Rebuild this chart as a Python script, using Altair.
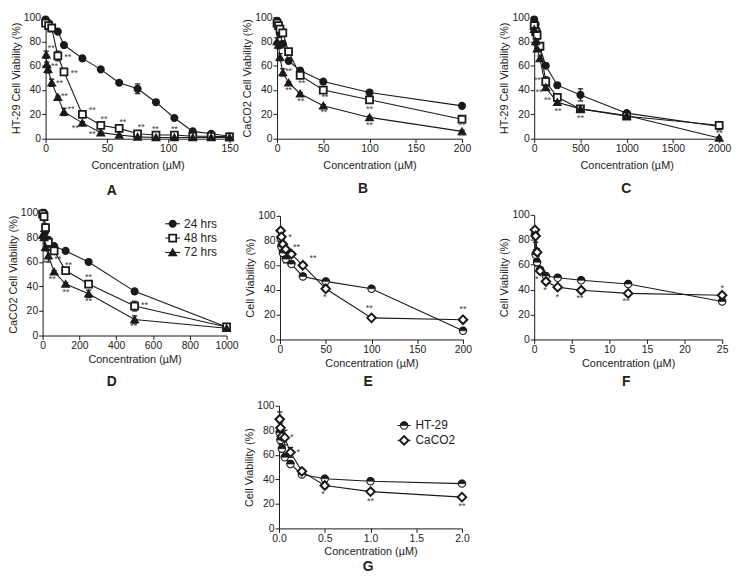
import altair as alt
import pandas as pd

FONT = "Liberation Sans"
W, H = 734, 570
INK = "#1a1a1a"
TXT = "#222222"

# ---------------- data ----------------
# Panel A: HT-29, 0-150 uM
A_x24 = [0, 2.5, 5, 10, 15, 30, 45, 60, 75, 90, 105, 120, 135, 150]
A_y24 = [98, 95, 91, 88, 77, 66, 57, 46, 41, 30, 17, 6, 4, 2]
A_e24 = [1, 1, 1, 1, 1, 2, 1, 1, 4, 2, 1, 0, 0, 0]
A_x48 = [0, 2.5, 5, 10, 15, 30, 45, 60, 75, 90, 105, 120, 135, 150]
A_y48 = [95, 93, 91, 68, 55, 20, 11, 8.5, 4, 3, 3, 2, 2, 1.5]
A_e48 = [2, 1, 1, 4, 1, 1, 1, 1, 1, 1, 1, 0, 0, 0]
A_x72 = [0.5, 1, 2, 5, 10, 15, 30, 45, 60, 75, 90, 105, 120, 135, 150]
A_y72 = [69, 61, 57, 46, 34, 22, 13, 5, 3, 1.5, 1, 1, 1, 1, 1]
A_e72 = [3, 2, 3, 3, 1, 3, 1, 1, 0, 0, 0, 0, 0, 0, 0]
A_sx = [4.6, 7.3, 11.3, 15.3, 20.7, 24.2, 18, 23.4, 38, 47.6, 63, 78, 89.5, 105, 38]
A_sy = [74.8, 60, 46, 35, 24.4, 9, 67.5, 54, 23.6, 16.3, 13.8, 9.8, 8, 7.9, 3.5]
A_st = ["**"] * 15

# Panel B: CaCO2, 0-200 uM
B_x = [0, 1.5625, 3.125, 6.25, 12.5, 25, 50, 100, 200]
B_y24 = [97, 93, 86, 78, 64, 56, 47, 38, 27]
B_e24 = [2, 2, 2, 2, 1, 2, 1, 1, 1]
B_y48 = [95, 93, 90, 87, 71.5, 52, 40, 32, 16]
B_e48 = [4, 3, 4, 3, 2, 2, 1, 1, 2]
B_y72 = [80, 77, 67, 54.5, 46, 37, 27, 17.5, 6]
B_e72 = [3, 3, 3, 3, 1, 1, 1, 1, 1]
B_sx = [12.5, 12.5, 26.7, 25.7, 51.7, 50.6, 100, 100, 200, 200]
B_sy = [56, 40, 45.5, 31, 34, 22, 24.6, 11.6, 11, 2]
B_st = ["**"] * 10

# Panel C: HT-29, 0-2000 uM
C_x = [0, 15.625, 31.25, 62.5, 125, 250, 500, 1000, 2000]
C_y24 = [98, 94, 88, 75, 60, 44, 36, 21, 10]
C_e24 = [2, 2, 2, 1, 1, 2, 5, 1, 1]
C_y48 = [93, 88, 85, 76, 47, 34, 24.5, 18.5, 11]
C_e48 = [3, 3, 3, 3, 4, 2, 1, 1, 1]
C_y72 = [90, 80, 74, 66, 42, 30, 24.5, 19, 0.5]
C_e72 = [3, 3, 2, 2, 1, 2, 1, 1, 1]
C_sx = [35, 54, 143, 257, 500, 2000]
C_sy = [48, 38, 31.4, 22.5, 17.3, 4.3]
C_st = ["**"] * 6

# Panel D: CaCO2, 0-1000 uM
D_x = [0, 7.8125, 15.625, 31.25, 62.5, 125, 250, 500, 1000]
D_y24 = [100, 100, 85, 78, 73, 69, 60, 36, 7]
D_e24 = [1, 1, 2, 2, 1, 1, 1, 2, 1]
D_y48 = [99, 97, 88, 76, 69, 53, 42, 24, 7]
D_e48 = [2, 2, 3, 4, 2, 2, 2, 4, 1]
D_y72 = [82, 80, 72, 65, 52, 42, 34, 13, 6]
D_e72 = [3, 2, 3, 5, 1, 1, 3, 3, 1]
D_sx = [20, 82, 140, 52, 127, 249, 249, 554, 495]
D_sy = [59, 62, 57.8, 45.7, 35.7, 47.8, 28.2, 25, 7.5]
D_st = ["**"] * 9

# Panel E: 0-200 uM
E_x = [0.78125, 1.5625, 3.125, 6.25, 12.5, 25, 50, 100, 200]
E_ht = [82, 75, 70, 65, 61, 51, 47, 41, 7]
E_hte = [3, 3, 3, 3, 1, 1, 1, 1, 1]
E_ca = [88, 83, 77, 73, 69, 60, 41, 17.5, 16]
E_cae = [2, 2, 2, 2, 2, 2, 2, 1, 1]
E_sx = [11, 18, 36, 49, 97.6, 200]
E_sy = [82.7, 74.6, 66, 34, 25.3, 24.5]
E_st = ["*", "**", "**", "*", "**", "**"]

# Panel F: 0-25 uM
F_x = [0.09765625, 0.1953125, 0.390625, 0.78125, 1.5625, 3.125, 6.25, 12.5, 25]
F_ht = [84, 68, 62, 56, 51, 49.5, 47.5, 44.5, 30.5]
F_hte = [3, 4, 3, 2, 1, 1, 1, 1, 1]
F_ca = [88, 83, 70, 55, 46.5, 42, 39.5, 37, 35.5]
F_cae = [2, 5, 3, 2, 2, 1, 1, 2, 1]
F_sx = [0.35, 1.45, 3.07, 6.1, 12.2, 25]
F_sy = [48.5, 39.7, 33.9, 33, 31, 41]
F_st = ["*", "*", "*", "**", "**", "*"]

# Panel G: 0-2 uM
G_x = [0.0078125, 0.015625, 0.03125, 0.0625, 0.125, 0.25, 0.5, 1, 2]
G_ht = [78, 72, 65, 58, 52.5, 44, 40.5, 38.5, 36.5]
G_hte = [4, 3, 3, 2, 1, 1, 1, 1, 1]
G_ca = [89, 82, 75, 74, 62, 46.5, 35, 30, 25.5]
G_cae = [6, 4, 4, 6, 4, 2, 2, 2, 1]
G_sx = [0.14, 0.21, 0.48, 1, 2]
G_sy = [74.7, 62.6, 27.7, 22.3, 18.3]
G_st = ["*", "*", "*", "**", "**"]

HRS = ["24 hrs", "48 hrs", "72 hrs"]
LINES = ["HT-29", "CaCO2"]

# ---------------- helpers ----------------
layers = []


def frame(xs, ys, es):
    df = pd.DataFrame({"x": xs, "y": ys, "err": es})
    df["lo"] = df["y"] - df["err"]
    df["hi"] = df["y"] + df["err"]
    return df


HALF_TOP = "M-1,0A1,1 0 0 1 1,0Z"


def pt(base, **kw):
    return base.mark_point(filled=True, opacity=1, stroke=INK, **kw)


def marker_layers(base, kind, enc):
    if kind == "circle":
        return [pt(base, shape="circle", fill=INK, size=38).encode(**enc)]
    if kind == "square":
        return [pt(base, shape="square", fill="white", strokeWidth=1.8, size=50).encode(**enc)]
    if kind == "triangle":
        return [pt(base, shape="triangle-up", fill=INK, size=42).encode(**enc)]
    if kind == "diamond":
        return [pt(base, shape="diamond", fill="white", strokeWidth=2, size=75).encode(**enc)]
    if kind == "half":
        return [
            pt(base, shape="circle", fill="white", strokeWidth=1.1, size=55).encode(**enc),
            pt(base, shape=HALF_TOP, fill=INK, strokeWidth=0.6, size=55).encode(**enc),
        ]
    return []


AX = dict(grid=False, labelFlush=False, labelOverlap=False, domainColor=INK, tickColor=INK,
          domainWidth=1, tickWidth=1, tickSize=4, labelPadding=1, labelFont=FONT,
          labelFontSize=10.5, labelColor=TXT, titleFont=FONT, titleFontSize=11,
          titleFontWeight="normal", titleColor=TXT)


def add_panel(xdom, xticks, xfmt, xr, yr, ytitle, series, sx, sy, st, xtp):
    xs = alt.Scale(domain=xdom, range=xr, nice=False, zero=False)
    ys = alt.Scale(domain=[0, 100], range=yr, nice=False, zero=False)
    xaxis = alt.Axis(orient="bottom", offset=yr[0] - H, values=xticks, format=xfmt,
                     title="Concentration (µM)", titlePadding=xtp, **AX)
    yaxis = alt.Axis(orient="left", offset=-xr[0], values=[0, 20, 40, 60, 80, 100],
                     format="d", title=ytitle, titlePadding=2, **AX)
    first = True
    for df, kind in series:
        base = alt.Chart(df)
        if first:
            X = alt.X("x:Q", scale=xs, axis=xaxis)
            Y = alt.Y("y:Q", scale=ys, axis=yaxis)
            first = False
        else:
            X = alt.X("x:Q", scale=xs, axis=None)
            Y = alt.Y("y:Q", scale=ys, axis=None)
        layers.append(base.mark_line(color=INK, strokeWidth=1.1).encode(x=X, y=Y))
    for df, kind in series:
        eb = alt.Chart(df[df["err"] > 0])
        X = alt.X("x:Q", scale=xs, axis=None)
        layers.append(eb.mark_rule(color=INK, strokeWidth=1.2).encode(
            x=X, y=alt.Y("lo:Q", scale=ys, axis=None), y2="hi:Q"))
        layers.append(eb.transform_fold(["lo", "hi"], as_=["end", "v"]).mark_point(
            shape="M-1,0H1", stroke=INK, strokeWidth=1.2, size=30, filled=False, opacity=1).encode(
            x=X, y=alt.Y("v:Q", scale=ys, axis=None)))
    for df, kind in series:
        enc = dict(x=alt.X("x:Q", scale=xs, axis=None), y=alt.Y("y:Q", scale=ys, axis=None))
        layers.extend(marker_layers(alt.Chart(df), kind, enc))
    sdf = pd.DataFrame({"x": sx, "y": sy, "t": st})
    layers.append(alt.Chart(sdf).mark_text(font=FONT, fontSize=9, color="#444444",
                                           baseline="middle", align="center").encode(
        x=alt.X("x:Q", scale=xs, axis=None), y=alt.Y("y:Q", scale=ys, axis=None), text="t:N"))


# ---------------- panels ----------------
add_panel([0, 150], [0, 50, 100, 150], "d", [38, 224], [129, 6], "HT-29 Cell Viability (%)",
          [(frame(A_x24, A_y24, A_e24), "circle"), (frame(A_x48, A_y48, A_e48), "square"),
           (frame(A_x72, A_y72, A_e72), "triangle")], A_sx, A_sy, A_st, 6)
add_panel([0, 200], [0, 50, 100, 150, 200], "d", [272, 459], [129, 6], "CaCO2 Cell Viability (%)",
          [(frame(B_x, B_y24, B_e24), "circle"), (frame(B_x, B_y48, B_e48), "square"),
           (frame(B_x, B_y72, B_e72), "triangle")], B_sx, B_sy, B_st, 6)
add_panel([0, 2000], [0, 500, 1000, 1500, 2000], "d", [532, 719], [129, 6], "HT-29 Cell Viability (%)",
          [(frame(C_x, C_y24, C_e24), "circle"), (frame(C_x, C_y48, C_e48), "square"),
           (frame(C_x, C_y72, C_e72), "triangle")], C_sx, C_sy, C_st, 6)
add_panel([0, 1000], [0, 200, 400, 600, 800, 1000], "d", [35, 221], [328, 204], "CaCO2 Cell Viability (%)",
          [(frame(D_x, D_y24, D_e24), "circle"), (frame(D_x, D_y48, D_e48), "square"),
           (frame(D_x, D_y72, D_e72), "triangle")], D_sx, D_sy, D_st, 3)
add_panel([0, 200], [0, 50, 100, 150, 200], "d", [275, 460], [332, 207], "Cell Viability (%)",
          [(frame(E_x, E_ht, E_hte), "half"), (frame(E_x, E_ca, E_cae), "diamond")], E_sx, E_sy, E_st, 3)
add_panel([0, 25], [0, 5, 10, 15, 20, 25], "d", [532, 722], [332, 206], "Cell Viability (%)",
          [(frame(F_x, F_ht, F_hte), "half"), (frame(F_x, F_ca, F_cae), "diamond")], F_sx, F_sy, F_st, 3)
add_panel([0, 2], [0, 0.5, 1, 1.5, 2], ".1f", [274, 459], [523, 399], "Cell Viability (%)",
          [(frame(G_x, G_ht, G_hte), "half"), (frame(G_x, G_ca, G_cae), "diamond")], G_sx, G_sy, G_st, 2)

# ---------------- panel letters ----------------
for letter, (lx, ly) in zip("ABCDEFG", [(105, 182), (359, 180), (625, 180), (105, 375),
                                         (364, 375), (625, 375), (364, 562)]):
    layers.append(alt.Chart(pd.DataFrame({"t": [letter]})).mark_text(
        font=FONT, fontSize=14, fontWeight="bold", color=TXT, align="center", baseline="middle"
    ).encode(x=alt.value(lx), y=alt.value(ly), text="t:N"))


# ---------------- legends ----------------
def add_legend(labels, kinds, yrange, x0, x1, xm, xt):
    ldf = pd.DataFrame({"label": labels})
    ysc = alt.Scale(type="point", domain=labels, range=yrange, padding=0)
    Y = alt.Y("label:N", scale=ysc, axis=None)
    base = alt.Chart(ldf)
    layers.append(base.mark_rule(color=INK, strokeWidth=1.1).encode(
        x=alt.value(x0), x2=alt.value(x1), y=Y))
    for lab, kind in zip(labels, kinds):
        b = base.transform_filter(alt.datum.label == lab)
        layers.extend(marker_layers(b, kind, dict(x=alt.value(xm), y=Y)))
    layers.append(base.mark_text(font=FONT, fontSize=12, color=TXT, align="left",
                                 baseline="middle").encode(x=alt.value(xt), y=Y, text="label:N"))


add_legend(HRS, ["circle", "square", "triangle"], [215, 244], 159, 174, 166.5, 178)
add_legend(LINES, ["half", "diamond"], [419, 434], 394, 407, 400.5, 412)

chart = alt.layer(*layers).resolve_scale(x="independent", y="independent").properties(
    width=W, height=H, padding=0, background="white",
    autosize=alt.AutoSizeParams(type="none")
).configure_view(stroke=None)

chart.save("out.html", embed_options={"renderer": "svg", "actions": False})
